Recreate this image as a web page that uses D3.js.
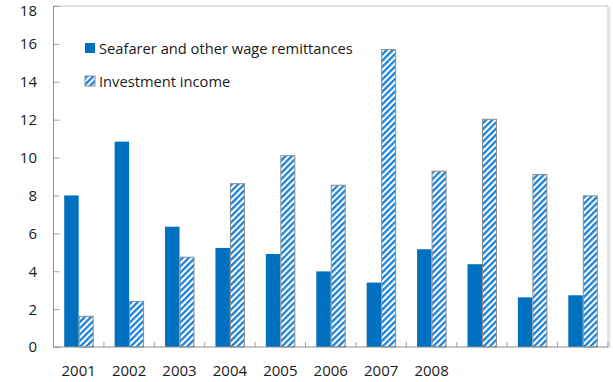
<!DOCTYPE html>
<html>
<head>
<meta charset="utf-8">
<script src="https://cdn.jsdelivr.net/npm/d3@7"></script>
<style>
  html, body { margin: 0; padding: 0; background: #fff; }
  svg { display: block; }
  text { font-family: "Open Sans", "Noto Sans", sans-serif; fill: #1a1a1a; }
</style>
</head>
<body>
<svg id="chart" width="613" height="382"></svg>
<script>
// Remittance components by year (values in the chart's units)
const categories = ["2001", "2002", "2003", "2004", "2005", "2006", "2007", "2008", "c9", "c10", "c11"];
const categoryLabels = ["2001", "2002", "2003", "2004", "2005", "2006", "2007", "2008", "", "", ""];
const seafarerWages = [8.0, 10.84, 6.35, 5.23, 4.91, 3.99, 3.4, 5.16, 4.37, 2.62, 2.73];
const investmentIncome = [1.62, 2.41, 4.74, 8.62, 10.1, 8.54, 15.7, 9.28, 12.02, 9.1, 7.98];
const seriesNames = ["Seafarer and other wage remittances", "Investment income"];
const yTicks = [0, 2, 4, 6, 8, 10, 12, 14, 16, 18];

const svg = d3.select("#chart");
const plot = { left: 53.5, right: 608, top: 6, bottom: 347 };

const x = d3.scaleBand()
  .domain(categories)
  .range([plot.left, plot.right])
  .paddingInner(0.425)
  .paddingOuter(0.2125);

const xSeries = d3.scaleBand()
  .domain(["wages", "income"])
  .range([0, x.bandwidth()]);

const y = d3.scaleLinear().domain([0, 18]).range([plot.bottom, plot.top]);

const blue = "#0070c0";

// Diagonal hatch used for the investment-income bars
const defs = svg.append("defs");
const hatch = defs.append("pattern")
  .attr("id", "hatch")
  .attr("patternUnits", "userSpaceOnUse")
  .attr("width", 4.4)
  .attr("height", 4.4)
  .attr("patternTransform", "rotate(45)");
hatch.append("rect").attr("width", 4.4).attr("height", 4.4).attr("fill", "#ffffff");
hatch.append("rect").attr("width", 2.3).attr("height", 4.4).attr("fill", "#1a82d6");

// Plot frame (top and right edges)
svg.append("line")
  .attr("x1", plot.left).attr("x2", plot.right)
  .attr("y1", plot.top).attr("y2", plot.top)
  .attr("stroke", "#c4c4c4").attr("stroke-width", 1);
svg.append("line")
  .attr("x1", plot.right).attr("x2", plot.right)
  .attr("y1", plot.top).attr("y2", plot.bottom)
  .attr("stroke", "#c4c4c4").attr("stroke-width", 1);
svg.append("line")
  .attr("x1", plot.right + 1.5).attr("x2", plot.right + 1.5)
  .attr("y1", plot.top + 1).attr("y2", plot.bottom + 1)
  .attr("stroke", "#e6e6e6").attr("stroke-width", 2);

// Bars
const groups = svg.append("g").selectAll("g")
  .data(categories)
  .join("g")
  .attr("transform", d => `translate(${x(d)},0)`);

groups.append("rect")
  .attr("x", xSeries("wages"))
  .attr("width", xSeries.bandwidth())
  .attr("y", (d, i) => y(seafarerWages[i]))
  .attr("height", (d, i) => y(0) - y(seafarerWages[i]))
  .attr("fill", blue);

groups.append("rect")
  .attr("x", xSeries("income") + 0.5)
  .attr("width", xSeries.bandwidth() - 0.5)
  .attr("y", (d, i) => y(investmentIncome[i]))
  .attr("height", (d, i) => y(0) - y(investmentIncome[i]))
  .attr("fill", "url(#hatch)")
  .attr("stroke", "#8c8c8c")
  .attr("stroke-width", 1);

// Y axis: ticks point into the plot
const yAxis = svg.append("g")
  .attr("transform", `translate(${plot.left},0)`)
  .call(d3.axisRight(y).tickValues(yTicks).tickSize(6).tickFormat(""));
yAxis.select(".domain").remove();
yAxis.selectAll("line").attr("stroke", "#a0a0a0");
svg.append("line")
  .attr("x1", plot.left).attr("x2", plot.left)
  .attr("y1", plot.top).attr("y2", plot.bottom)
  .attr("stroke", "#8c8c8c");

// Tick labels; the topmost one is kept inside the drawing area
svg.append("g").selectAll("text")
  .data(yTicks)
  .join("text")
  .attr("x", 37)
  .attr("y", d => Math.max(y(d) + 5.4, 16))
  .attr("text-anchor", "end")
  .attr("font-size", 15)
  .text(d => d);

// X axis: boundary ticks point up into the plot
const step = x.step();
const boundaries = d3.range(categories.length + 1).map(i => plot.left + i * step);
svg.append("g").selectAll("line")
  .data(boundaries)
  .join("line")
  .attr("x1", d => d).attr("x2", d => d)
  .attr("y1", plot.bottom - 5).attr("y2", plot.bottom)
  .attr("stroke", "#a0a0a0");
svg.append("line")
  .attr("x1", plot.left).attr("x2", plot.right)
  .attr("y1", plot.bottom).attr("y2", plot.bottom)
  .attr("stroke", "#8c8c8c");

svg.append("g").selectAll("text")
  .data(categories)
  .join("text")
  .attr("x", d => x(d) + x.bandwidth() / 2)
  .attr("y", 376)
  .attr("text-anchor", "middle")
  .attr("font-size", 15)
  .text((d, i) => categoryLabels[i]);

// Legend
const legend = svg.append("g");
const legendRows = [
  { name: seriesNames[0], fill: blue, stroke: "none", y: 43 },
  { name: seriesNames[1], fill: "url(#hatch)", stroke: "#8c8c8c", y: 76 }
];
legendRows.forEach(r => {
  legend.append("rect")
    .attr("x", 85).attr("y", r.y)
    .attr("width", 10).attr("height", 10)
    .attr("fill", r.fill)
    .attr("stroke", r.stroke);
  legend.append("text")
    .attr("x", 99).attr("y", r.y + 10.5)
    .attr("font-size", 14.7)
    .text(r.name);
});
</script>
</body>
</html>
